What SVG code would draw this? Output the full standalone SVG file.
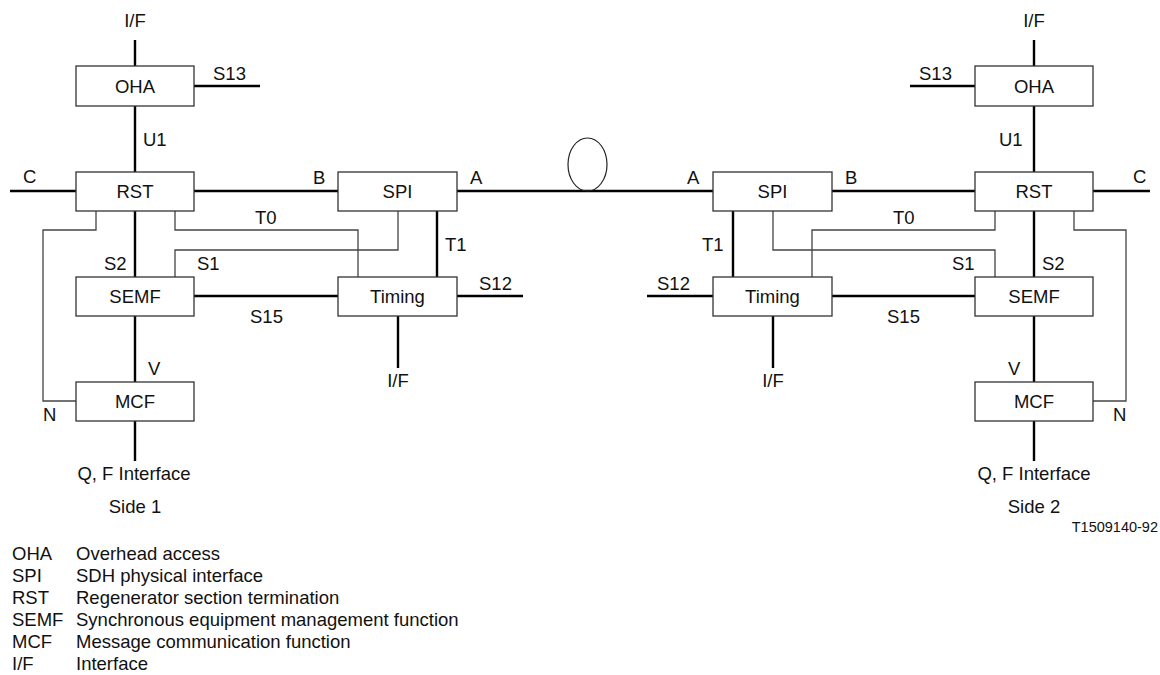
<svg xmlns="http://www.w3.org/2000/svg" width="1160" height="675" viewBox="0 0 1160 675">
<style>
text{font-family:"Liberation Sans",Arial,sans-serif;font-size:18.5px;fill:#111}
.box{fill:#fff;stroke:#333;stroke-width:1.3}
.thick{stroke:#000;stroke-width:2.4;fill:none}
.thin{stroke:#444;stroke-width:1.3;fill:none}
.c{text-anchor:middle}
.small{font-size:14.5px}
</style>
<rect width="1160" height="675" fill="#fff"/>
<g id="connectors">
<path class="thick" d="M135 40V66M194 86H260M135 106V172M10 191H76M194 191H338M457 191H713M832 191H975M1093 191H1150M437 211V277M733 211V277M135 211V277M1034 211V277M194 296H338M832 296H975M457 296H523M647 296H713M398 316V368M773 316V368M135 316V382M1034 316V382M135 421V461M1034 421V461M1034 40V66M910 86H975M1034 106V172"/>
<path class="thin" d="M96 211V230H43V401H76M175 211V230H358V277M175 277V250H398V211M995 211V230H812V277M1074 211V230H1126V401H1093M995 277V250H773V211"/>
<ellipse cx="587.5" cy="164.5" rx="19.5" ry="26.5" fill="none" stroke="#222" stroke-width="1.2"/>
</g>
<g id="oha1"><rect class="box" x="76" y="66" width="118" height="40"/><text class="c" x="135" y="92.5">OHA</text></g>
<g id="rst1"><rect class="box" x="76" y="172" width="118" height="39"/><text class="c" x="135" y="198">RST</text></g>
<g id="semf1"><rect class="box" x="76" y="277" width="118" height="39"/><text class="c" x="135" y="303">SEMF</text></g>
<g id="mcf1"><rect class="box" x="76" y="382" width="118" height="39"/><text class="c" x="135" y="408">MCF</text></g>
<g id="spi1"><rect class="box" x="338" y="172" width="119" height="39"/><text class="c" x="397.5" y="198">SPI</text></g>
<g id="timing1"><rect class="box" x="338" y="277" width="119" height="39"/><text class="c" x="397.5" y="303">Timing</text></g>
<g id="oha2"><rect class="box" x="975" y="66" width="118" height="40"/><text class="c" x="1034" y="92.5">OHA</text></g>
<g id="rst2"><rect class="box" x="975" y="172" width="118" height="39"/><text class="c" x="1034" y="198">RST</text></g>
<g id="semf2"><rect class="box" x="975" y="277" width="118" height="39"/><text class="c" x="1034" y="303">SEMF</text></g>
<g id="mcf2"><rect class="box" x="975" y="382" width="118" height="39"/><text class="c" x="1034" y="408">MCF</text></g>
<g id="spi2"><rect class="box" x="713" y="172" width="119" height="39"/><text class="c" x="772.5" y="198">SPI</text></g>
<g id="timing2"><rect class="box" x="713" y="277" width="119" height="39"/><text class="c" x="772.5" y="303">Timing</text></g>
<g id="labels">
<text class="c" x="135" y="27">I/F</text>
<text x="213" y="80">S13</text>
<text x="143" y="146">U1</text>
<text x="23" y="183">C</text>
<text x="313" y="184">B</text>
<text x="470" y="184">A</text>
<text x="255" y="224">T0</text>
<text x="445" y="251">T1</text>
<text x="197" y="270">S1</text>
<text x="104" y="270">S2</text>
<text x="479" y="290">S12</text>
<text x="250" y="323">S15</text>
<text class="c" x="398" y="387">I/F</text>
<text x="148" y="375">V</text>
<text x="43" y="421">N</text>
<text class="c" x="134" y="480">Q, F Interface</text>
<text class="c" x="135" y="513">Side 1</text>
<text class="c" x="1034" y="27">I/F</text>
<text x="919" y="80">S13</text>
<text x="999" y="146">U1</text>
<text x="1133" y="183">C</text>
<text x="845" y="184">B</text>
<text x="687" y="184">A</text>
<text x="893" y="224">T0</text>
<text x="702" y="251">T1</text>
<text x="952" y="270">S1</text>
<text x="1042" y="270">S2</text>
<text x="657" y="290">S12</text>
<text x="887" y="323">S15</text>
<text class="c" x="773" y="387">I/F</text>
<text x="1008" y="375">V</text>
<text x="1113" y="421">N</text>
<text class="c" x="1034" y="480">Q, F Interface</text>
<text class="c" x="1034" y="513">Side 2</text>
<text class="small" x="1158" y="532" text-anchor="end">T1509140-92</text>
</g>
<g id="legend">
<text x="12" y="560">OHA</text><text x="76" y="560">Overhead access</text>
<text x="12" y="582">SPI</text><text x="76" y="582">SDH physical interface</text>
<text x="12" y="604">RST</text><text x="76" y="604">Regenerator section termination</text>
<text x="12" y="626">SEMF</text><text x="76" y="626">Synchronous equipment management function</text>
<text x="12" y="648">MCF</text><text x="76" y="648">Message communication function</text>
<text x="12" y="670">I/F</text><text x="76" y="670">Interface</text>
</g>
</svg>
